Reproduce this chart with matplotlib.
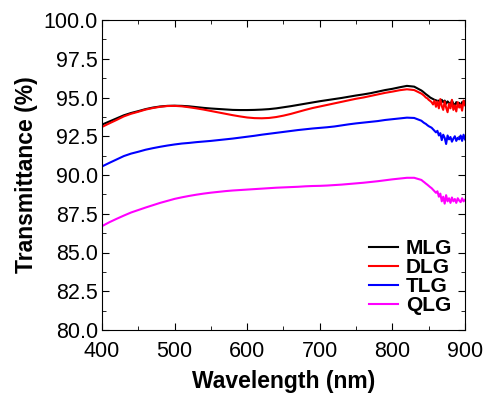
import numpy as np
import matplotlib.pyplot as plt
from matplotlib.ticker import MultipleLocator

plt.rcParams['font.family'] = ['Liberation Sans', 'DejaVu Sans']

# smooth part, 400..840 nm every 10 nm
wl_main = list(range(400, 841, 10))
# noisy tail, 842..900 nm every 2 nm
wl_tail = list(range(842, 901, 2))

mlg_main = [93.25, 93.45, 93.65, 93.85, 94.0, 94.12, 94.25, 94.35, 94.42, 94.46,
            94.47, 94.46, 94.43, 94.38, 94.33, 94.29, 94.26, 94.23, 94.2, 94.19,
            94.19, 94.2, 94.22, 94.25, 94.3, 94.37, 94.44, 94.52, 94.6, 94.68,
            94.76, 94.83, 94.9, 94.97, 95.05, 95.13, 95.2, 95.28, 95.38, 95.48,
            95.56, 95.66, 95.75, 95.7, 95.45]
mlg_tail = [95.38, 95.3, 95.22, 95.15, 95.08, 95.0, 94.95, 94.9, 94.85, 94.82,
            94.78, 94.8, 94.72, 94.85, 94.7, 94.8, 94.6, 94.75, 94.65, 94.55,
            94.8, 94.6, 94.5, 94.7, 94.55, 94.65, 94.45, 94.7, 94.6, 94.75]

dlg_main = [93.1, 93.33, 93.55, 93.78, 93.95, 94.08, 94.22, 94.32, 94.4, 94.45,
            94.46, 94.43, 94.37, 94.3, 94.22, 94.13, 94.04, 93.95, 93.86, 93.78,
            93.71, 93.67, 93.66, 93.68, 93.74, 93.83, 93.94, 94.07, 94.2, 94.32,
            94.42, 94.52, 94.62, 94.72, 94.82, 94.92, 95.0, 95.1, 95.2, 95.3,
            95.38, 95.47, 95.53, 95.48, 95.25]
dlg_tail = [95.18, 95.1, 95.0, 94.95, 94.85, 94.78, 94.7, 94.55, 94.8, 94.4,
            94.75, 94.3, 94.9, 94.45, 94.2, 94.75, 94.35, 94.05, 94.6, 94.3,
            94.85, 94.2, 94.5, 94.1, 94.7, 94.35, 94.55, 94.15, 94.8, 94.5]

tlg_main = [90.55, 90.78, 91.0, 91.22, 91.38, 91.5, 91.63, 91.73, 91.82, 91.9,
            91.97, 92.03, 92.07, 92.12, 92.16, 92.2, 92.25, 92.3, 92.35, 92.41,
            92.47, 92.53, 92.6, 92.66, 92.72, 92.78, 92.84, 92.9, 92.95, 93.0,
            93.04, 93.08, 93.13, 93.2, 93.27, 93.33, 93.38, 93.43, 93.48, 93.55,
            93.6, 93.65, 93.7, 93.68, 93.5]
tlg_tail = [93.42, 93.35, 93.3, 93.22, 93.15, 93.1, 93.05, 92.95, 92.85, 92.75,
            92.85, 92.55, 92.7, 92.25, 92.6, 92.4, 92.0, 92.55, 92.3, 92.45,
            92.15, 92.35, 92.5, 92.2, 92.4, 92.3, 92.55, 92.2, 92.6, 92.3]

qlg_main = [86.7, 86.95, 87.17, 87.38, 87.58, 87.74, 87.9, 88.05, 88.2, 88.33,
            88.46, 88.56, 88.65, 88.73, 88.8, 88.86, 88.91, 88.96, 89.0, 89.03,
            89.06, 89.09, 89.12, 89.15, 89.18, 89.2, 89.22, 89.24, 89.27, 89.29,
            89.3, 89.32, 89.35, 89.38, 89.42, 89.46, 89.5, 89.55, 89.6, 89.66,
            89.72, 89.77, 89.82, 89.82, 89.68]
qlg_tail = [89.6, 89.53, 89.45, 89.38, 89.3, 89.22, 89.15, 89.05, 88.95, 88.85,
            88.95, 88.6, 88.8, 88.3, 88.6, 88.15, 88.7, 88.3, 88.5, 88.2,
            88.55, 88.3, 88.45, 88.2, 88.5, 88.35, 88.25, 88.5, 88.3, 88.4]

labels = ['MLG', 'DLG', 'TLG', 'QLG']
colors = ['black', 'red', 'blue', 'magenta']

wl = np.array(wl_main + wl_tail)
series = [mlg_main + mlg_tail, dlg_main + dlg_tail,
          tlg_main + tlg_tail, qlg_main + qlg_tail]

fig = plt.figure(figsize=(4.97, 4.09), dpi=100)
ax = fig.add_axes([102 / 497, 79 / 409, 363 / 497, 310 / 409])

for y, lab, c in zip(series, labels, colors):
    ax.plot(wl, y, color=c, lw=1.5, label=lab)

ax.set_xlim(400, 900)
ax.set_ylim(80, 100)
ax.xaxis.set_major_locator(MultipleLocator(100))
ax.xaxis.set_minor_locator(MultipleLocator(50))
ax.yaxis.set_major_locator(MultipleLocator(2.5))
ax.yaxis.set_minor_locator(MultipleLocator(1.25))
ax.yaxis.set_major_formatter(plt.FormatStrFormatter('%.1f'))
ax.tick_params(which='both', direction='in', top=True, right=True, labelsize=15.5)
ax.tick_params(which='major', length=5)
ax.tick_params(which='minor', length=3)
ax.tick_params(axis='x', pad=8)
ax.tick_params(axis='y', pad=3)

ax.set_xlabel('Wavelength (nm)', fontsize=16.5, fontweight='bold', labelpad=6)
ax.set_ylabel('Transmittance (%)', fontsize=16.5, fontweight='bold', labelpad=4)

ax.legend(loc='lower right', bbox_to_anchor=(1.005, 0.0), frameon=False,
          prop={'size': 15, 'weight': 'bold'}, labelspacing=0.0,
          handlelength=1.35, handletextpad=0.4, borderpad=0.2)

fig.savefig('out.png', dpi=100)
